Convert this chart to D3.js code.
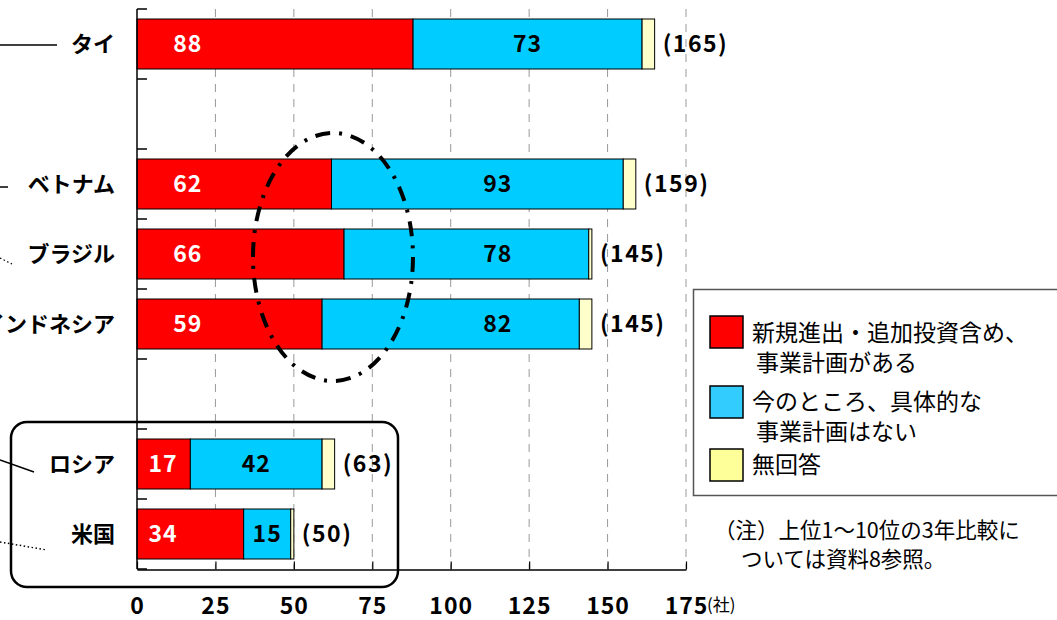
<!DOCTYPE html>
<html><head><meta charset="utf-8">
<script src="https://cdn.jsdelivr.net/npm/d3@7"></script>
<style>
body{margin:0;background:#fff;}
svg{display:block;}
text{font-family:"Noto Sans CJK JP","Noto Sans",sans-serif;}
</style></head>
<body>
<svg id="c" width="1057" height="620"></svg>
<script>
// ---- data ----
const slots = ["タイ", "_gap1", "ベトナム", "ブラジル", "インドネシア", "_gap2", "ロシア", "米国"];
const countries = ["タイ", "ベトナム", "ブラジル", "インドネシア", "ロシア", "米国"];
const planned = [88, 62, 66, 59, 17, 34];
const noPlan = [73, 93, 78, 82, 42, 15];
const noAnswer = [4, 4, 1, 4, 4, 1];
const totals = [165, 159, 145, 145, 63, 50];
const xTicks = [0, 25, 50, 75, 100, 125, 150, 175];
const seriesNames = [["新規進出・追加投資含め、", "事業計画がある"], ["今のところ、具体的な", "事業計画はない"], ["無回答"]];
const colors = ["#FF0000", "#00CCFF", "#FFFFCC"];
const legendColors = ["#FF0000", "#33CCFF", "#FFFF99"];
const noteLines = ["（注）上位1～10位の3年比較に", "ついては資料8参照。"];

const svg = d3.select("#c");
const x = d3.scaleLinear().domain([0, 175]).range([137, 686]);
const y = d3.scaleBand().domain(slots).range([9, 569]).paddingInner(2/7).paddingOuter(1/7);
const numFont = 23;

// grid
svg.append("g").selectAll("line").data(xTicks.filter(d => d > 0)).join("line")
  .attr("x1", d => x(d)).attr("x2", d => x(d)).attr("y1", 9).attr("y2", 569)
  .attr("stroke", "#999").attr("stroke-width", 1).attr("stroke-dasharray", "8,7");

// bars
const rows = countries.map((c, i) => ({c, vals: [planned[i], noPlan[i], noAnswer[i]], total: totals[i]}));
const gBars = svg.append("g");
rows.forEach(r => {
  let acc = 0;
  r.vals.forEach((v, k) => {
    gBars.append("rect")
      .attr("x", x(acc)).attr("y", y(r.c)).attr("width", x(acc + v) - x(acc)).attr("height", y.bandwidth())
      .attr("fill", colors[k]).attr("stroke", "#000").attr("stroke-width", 1);
    acc += v;
  });
  const cy = y(r.c) + y.bandwidth() / 2;
  const big = r.total > 100;
  gBars.append("text").attr("x", x(big ? 16.2 : 8.3)).attr("y", cy).attr("dy", "0.36em")
    .attr("text-anchor", "middle").attr("fill", "#fff").attr("font-weight", "bold").attr("font-size", numFont)
    .attr("letter-spacing", 1).text(r.vals[0]);
  const bc = (x(r.vals[0]) + x(r.vals[0] + r.vals[1])) / 2;
  gBars.append("text").attr("x", big ? Math.max(bc, x(115)) : bc).attr("y", cy).attr("dy", "0.36em")
    .attr("text-anchor", "middle").attr("fill", "#000").attr("font-weight", "bold").attr("font-size", numFont)
    .attr("letter-spacing", 1).text(r.vals[1]);
  gBars.append("text").attr("x", x(r.total) + 8).attr("y", cy).attr("dy", "0.36em")
    .attr("fill", "#000").attr("font-weight", "bold").attr("font-size", numFont).attr("letter-spacing", 1.5)
    .text("(" + r.total + ")");
  svg.append("text").attr("x", 115).attr("y", cy).attr("dy", "0.36em").attr("text-anchor", "end")
    .attr("font-weight", "bold").attr("font-size", 22).text(r.c);
});

// y axis
svg.append("line").attr("x1", 137).attr("x2", 137).attr("y1", 9).attr("y2", 569).attr("stroke", "#000").attr("stroke-width", 1.5);
svg.append("g").selectAll("line").data(d3.range(slots.length + 1)).join("line")
  .attr("x1", 137).attr("x2", 147).attr("y1", i => 9 + i * y.step()).attr("y2", i => 9 + i * y.step())
  .attr("stroke", "#000").attr("stroke-width", 1.5);

// x axis
const xAxis = d3.axisBottom(x).tickValues(xTicks).tickSize(-8).tickPadding(27).tickSizeOuter(0);
const gx = svg.append("g").attr("transform", "translate(0,569.5)").call(xAxis);
gx.select(".domain").attr("stroke", "#000").attr("stroke-width", 1.5);
gx.selectAll(".tick line").attr("stroke", "#000").attr("stroke-width", 1.2);
gx.selectAll(".tick text").attr("font-family", '"Noto Sans CJK JP",sans-serif').attr("font-weight", "bold")
  .attr("font-size", numFont).attr("fill", "#000").attr("letter-spacing", 1).attr("dy", "0.36em").attr("y", 36);
svg.append("text").attr("x", 707).attr("y", 605).attr("dy", "0.36em").attr("font-size", 17).text("(社)");

// ellipse
svg.append("ellipse").attr("cx", 333).attr("cy", 257).attr("rx", 80).attr("ry", 124)
  .attr("fill", "none").attr("stroke", "#000").attr("stroke-width", 4)
  .attr("stroke-dasharray", "15,9,3,9");

// rounded box
svg.append("rect").attr("x", 11).attr("y", 422).attr("width", 387).attr("height", 165).attr("rx", 16)
  .attr("fill", "none").attr("stroke", "#000").attr("stroke-width", 2.5);

// leader lines
svg.append("line").attr("x1", 0).attr("y1", 45).attr("x2", 57).attr("y2", 45).attr("stroke", "#000").attr("stroke-width", 1.5);
svg.append("line").attr("x1", 0).attr("y1", 187).attr("x2", 8).attr("y2", 187).attr("stroke", "#000").attr("stroke-width", 1.5);
svg.append("line").attr("x1", 0).attr("y1", 258).attr("x2", 12).attr("y2", 264).attr("stroke", "#000").attr("stroke-width", 1.3).attr("stroke-dasharray", "1.5,2.5");
svg.append("line").attr("x1", 0).attr("y1", 460).attr("x2", 34).attr("y2", 472).attr("stroke", "#000").attr("stroke-width", 1.5);
svg.append("line").attr("x1", 0).attr("y1", 542).attr("x2", 47).attr("y2", 550).attr("stroke", "#000").attr("stroke-width", 1.5).attr("stroke-dasharray", "1.5,2.5");

// legend
const lg = svg.append("g");
lg.append("rect").attr("x", 693.5).attr("y", 289.5).attr("width", 380).attr("height", 206)
  .attr("fill", "#fff").attr("stroke", "#555").attr("stroke-width", 1.5);
const swY = [316, 386, 449];
const txtY = [333, 402, 465];
seriesNames.forEach((lines, i) => {
  lg.append("rect").attr("x", 710).attr("y", swY[i]).attr("width", 33).attr("height", 32)
    .attr("fill", legendColors[i]).attr("stroke", "#000").attr("stroke-width", 1.5);
  const t = lg.append("text").attr("y", txtY[i]).attr("font-size", 23).attr("fill", "#000");
  lines.forEach((s, j) => {
    t.append("tspan").attr("x", j === 0 ? 752 : 756).attr("y", txtY[i] + j * 29.5).attr("dy", "0.36em").text(s);
  });
});

// note
const nt = svg.append("text").attr("font-size", 21.5).attr("fill", "#000");
noteLines.forEach((s, j) => {
  nt.append("tspan").attr("x", j === 0 ? 714 : 741).attr("y", 530 + j * 29).attr("dy", "0.36em").text(s);
});
</script>
</body></html>
